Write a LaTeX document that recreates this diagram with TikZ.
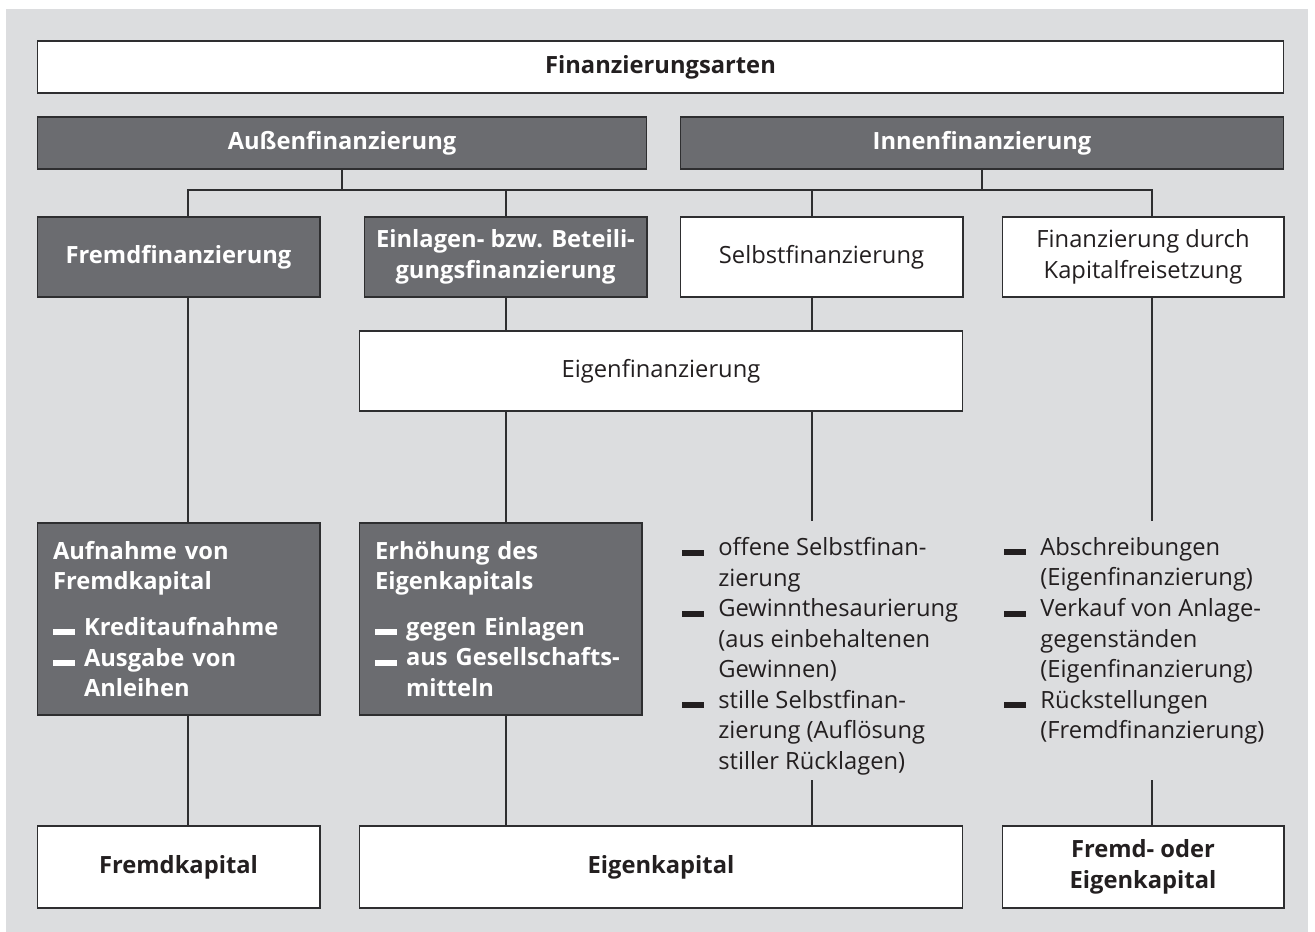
\documentclass[tikz,border=0pt]{standalone}
\usepackage{fontspec}
\setmainfont{Open Sans}
\definecolor{bggray}{HTML}{DCDDDF}
\definecolor{boxdark}{HTML}{6B6C70}
\definecolor{ink}{HTML}{231F20}
\definecolor{rim}{HTML}{2E2E30}
\newcommand{\blt}{\makebox[0.72cm][l]{\rule{0.44cm}{0.12cm}}}
\newcommand{\ind}{\hspace*{0.72cm}}
\newcommand{\bltb}{\makebox[0.62cm][l]{\rule{0.44cm}{0.12cm}}}
\newcommand{\indb}{\hspace*{0.62cm}}
\tikzset{
  hell/.style={draw=rim, fill=white, text=ink, line width=0.6pt, inner sep=0pt,
    align=center, font=\fontsize{13.5}{17.4}\selectfont},
  hellfett/.style={hell, font=\fontsize{13.5}{17.4}\selectfont\bfseries},
  dunkel/.style={hellfett, fill=boxdark, text=white},
  dunkelliste/.style={dunkel, align=left, inner xsep=0.32cm, text width=5.02cm},
  liste/.style={inner sep=0pt, align=left, text=ink, font=\fontsize{13.5}{17.4}\selectfont},
  verb/.style={draw=rim, line width=0.6pt}
}
\begin{document}
\begin{tikzpicture}[x=0.02cm, y=-0.02cm]
\useasboundingbox (0,0) rectangle (1315,932) ;
\fill [bggray] (6,9) rectangle (1308,932) ;
% Spalten der Verbindungslinien
\coordinate (c1) at (188,0) ;
\coordinate (c2) at (506,0) ;
\coordinate (c3) at (812,0) ;
\coordinate (c4) at (1152,0) ;
\coordinate (barL) at (188,190) ;
\coordinate (barR) at (1152,190) ;
\coordinate (s3top) at (812,521) ;
\coordinate (s3bot) at (812,780) ;
\coordinate (s4top) at (1152,521) ;
\coordinate (s4bot) at (1152,780) ;
% Kopf
\node [hellfett, minimum width=24.94cm, minimum height=1.04cm] (titel) at (660.5,67) {Finanzierungsarten} ;
\node [dunkel, minimum width=12.2cm, minimum height=1.04cm] (aussen) at (342,143) {Außenfinanzierung} ;
\node [dunkel, minimum width=12.08cm, minimum height=1.04cm] (innen) at (982,143) {Innenfinanzierung} ;
% zweite Reihe
\node [dunkel, minimum width=5.66cm, minimum height=1.6cm] (fremdfin) at (178.5,257) {Fremdfinanzierung} ;
\node [dunkel, minimum width=5.66cm, minimum height=1.6cm] (einlagen) at (505.5,257) {Einlagen- bzw. Beteili-\\gungsfinanzierung} ;
\node [hell, minimum width=5.66cm, minimum height=1.6cm] (selbst) at (821.5,257) {Selbstfinanzierung} ;
\node [hell, minimum width=5.64cm, minimum height=1.6cm] (kapfrei) at (1143,257) {Finanzierung durch\\Kapitalfreisetzung} ;
\node [hell, minimum width=12.08cm, minimum height=1.6cm] (eigenfin) at (661,371) {Eigenfinanzierung} ;
% Formen
\node [dunkelliste, minimum height=3.84cm] (aufnahme) at (178.5,619) {Aufnahme von\\
Fremdkapital\\[0.3cm]
\bltb Kreditaufnahme\\
\bltb Ausgabe von\\
\indb Anleihen} ;
\node [dunkelliste, minimum height=3.84cm] (erhoehung) at (500.5,619) {Erhöhung des\\
Eigenkapitals\\[0.3cm]
\bltb gegen Einlagen\\
\bltb aus Gesellschafts-\\
\indb mitteln} ;
\node [liste, anchor=north west] (selbstliste) at (682,537) {\blt offene Selbstfinan-\\
\ind zierung\\
\blt Gewinnthesaurierung\\
\ind (aus einbehaltenen\\
\ind Gewinnen)\\
\blt stille Selbstfinan-\\
\ind zierung (Auflösung\\
\ind stiller Rücklagen)} ;
\node [liste, anchor=north west] (kapliste) at (1004,537) {\blt Abschreibungen\\
\ind (Eigenfinanzierung)\\
\blt Verkauf von Anlage-\\
\ind gegenständen\\
\ind (Eigenfinanzierung)\\
\blt Rückstellungen\\
\ind (Fremdfinanzierung)} ;
% Ergebnis
\node [hellfett, minimum width=5.66cm, minimum height=1.64cm] (fremdkap) at (178.5,867) {Fremdkapital} ;
\node [hellfett, minimum width=12.08cm, minimum height=1.64cm] (eigenkap) at (661,867) {Eigenkapital} ;
\node [hellfett, minimum width=5.64cm, minimum height=1.64cm] (fremdeigen) at (1143,867) {Fremd- oder\\Eigenkapital} ;
% Linien
\draw [verb] (aussen.south) -- (aussen.south |- barL) ;
\draw [verb] (innen.south) -- (innen.south |- barL) ;
\draw [verb] (fremdfin.north -| c1) -- (barL) -- (barR) -- (kapfrei.north -| c4) ;
\draw [verb] (barL -| c2) -- (einlagen.north -| c2) ;
\draw [verb] (barL -| c3) -- (selbst.north -| c3) ;
\draw [verb] (fremdfin.south -| c1) -- (aufnahme.north -| c1) ;
\draw [verb] (aufnahme.south -| c1) -- (fremdkap.north -| c1) ;
\draw [verb] (einlagen.south -| c2) -- (eigenfin.north -| c2) ;
\draw [verb] (selbst.south -| c3) -- (eigenfin.north -| c3) ;
\draw [verb] (eigenfin.south -| c2) -- (erhoehung.north -| c2) ;
\draw [verb] (erhoehung.south -| c2) -- (eigenkap.north -| c2) ;
\draw [verb] (eigenfin.south -| c3) -- (s3top) ;
\draw [verb] (s3bot) -- (eigenkap.north -| c3) ;
\draw [verb] (kapfrei.south -| c4) -- (s4top) ;
\draw [verb] (s4bot) -- (fremdeigen.north -| c4) ;
\end{tikzpicture}
\end{document}
